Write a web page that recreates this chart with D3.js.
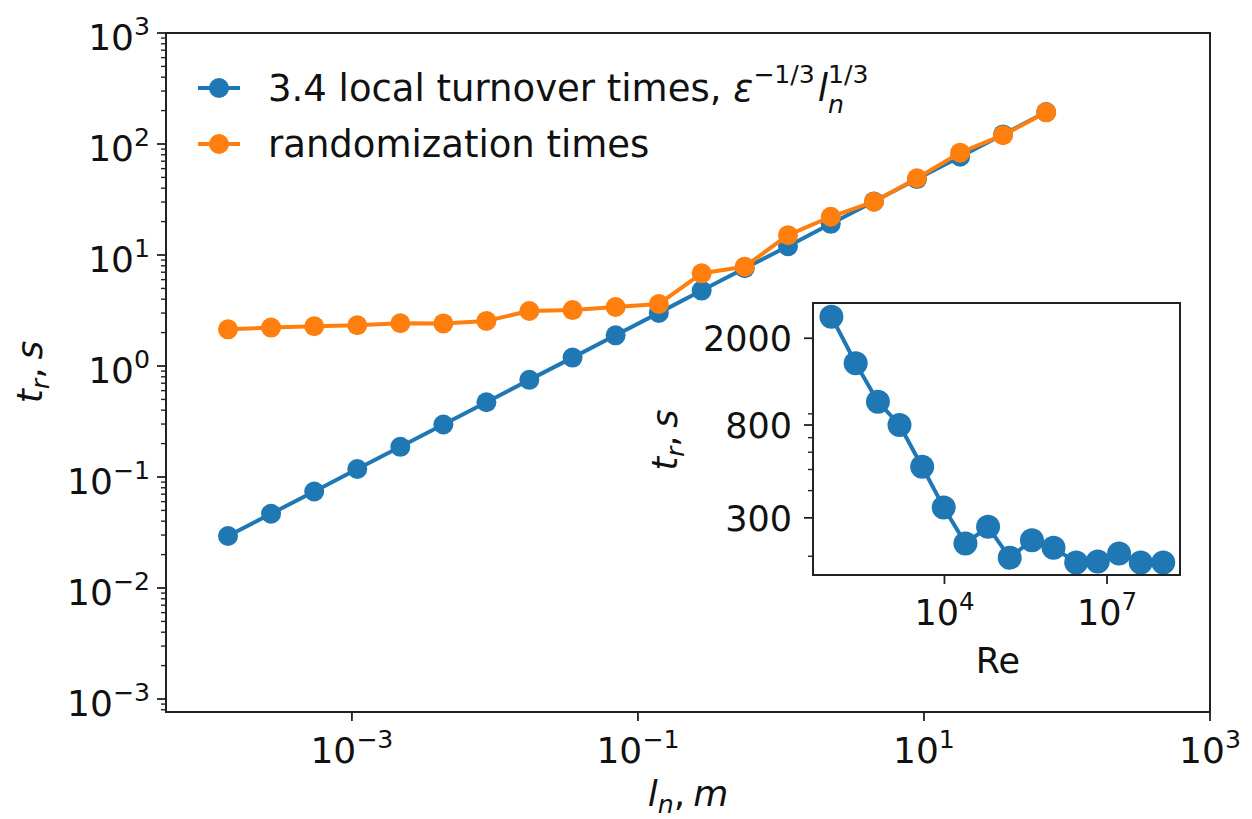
<!DOCTYPE html>
<html><head><meta charset="utf-8">
<script src="https://cdn.jsdelivr.net/npm/d3@7/dist/d3.min.js"></script>
<style>
body{margin:0;background:#fff}
svg{display:block}
text{font-family:"DejaVu Sans",sans-serif;fill:#111;white-space:pre}
</style>
</head><body>
<svg id="chart" width="1252" height="819"></svg>
<script>
// ---- data ----
const lengthScales = [0.000136, 0.000272, 0.000545, 0.00109, 0.00218, 0.00436, 0.00872, 0.0174, 0.0349, 0.0698,
                      0.140, 0.279, 0.558, 1.12, 2.23, 4.47, 8.93, 17.9, 35.7, 71.5];
const turnoverTimes = [0.0294, 0.0467, 0.0741, 0.118, 0.187, 0.297, 0.472, 0.750, 1.19, 1.89,
                       3.01, 4.78, 7.59, 12.0, 19.1, 30.4, 48.3, 76.7, 122, 194];
const randomizationTimes = [2.14, 2.22, 2.28, 2.33, 2.43, 2.42, 2.55, 3.13, 3.19, 3.40,
                            3.62, 6.84, 7.85, 15.1, 22.1, 30.2, 49.1, 83.5, 120, 193];
const reynolds = [82, 230, 592, 1480, 3880, 9700, 24400, 63800, 160000, 412000,
                  1030000, 2700000, 6760000, 16700000, 41900000, 109000000];
const insetTimes = [2512, 1535, 1023, 800, 515, 335, 229, 273, 197, 237, 219, 187, 189, 206, 187, 187];

const mainXTicks = [1e-3, 1e-1, 1e1, 1e3];
const mainXTickExp = ["−3", "−1", "1", "3"];
const mainYTicks = [1e-3, 1e-2, 1e-1, 1e0, 1e1, 1e2, 1e3];
const mainYTickExp = ["−3", "−2", "−1", "0", "1", "2", "3"];
const insetXTicks = [1e4, 1e7];
const insetXTickExp = ["4", "7"];
const insetYTicks = [300, 800, 2000];
const insetYTickLabels = ["300", "800", "2000"];
const insetYMinor = [200, 400, 500, 600, 700, 900];
const seriesNames = ["3.4 local turnover times, ", "randomization times"];
const colors = ["#1f77b4", "#ff7f0e"];

// ---- helpers ----
const svg = d3.select("#chart");
const FS = 36;      // main tick / axis labels
const FS_LEG = 37;  // legend
const FS_IN = 35;   // inset

// one <text> per label, pieces as positioned tspans (sub/superscripts)
function rich(parent, pieces, opts) {
  const size = opts.size || FS;
  const g = parent.append("g");
  const t = g.append("text");
  let cursor = 0, prevStart = 0;
  pieces.forEach(p => {
    const fs = size * (p.s || 1);
    const start = (p.stack ? prevStart : cursor) + (p.gap || 0) * size;
    const ts = t.append("tspan")
      .attr("x", start).attr("y", (p.dy || 0) * size)
      .attr("font-size", fs)
      .style("font-style", p.i ? "italic" : "normal")
      .text(p.t);
    const w = ts.node().getComputedTextLength();
    const end = start + w;
    cursor = p.stack ? Math.max(cursor, end) : end;
    prevStart = start;
  });
  const w = cursor;
  const shift = opts.anchor === "end" ? -w : opts.anchor === "middle" ? -w / 2 : 0;
  t.attr("transform", `translate(${shift},0)`);
  g.attr("transform", `translate(${opts.x},${opts.y})` + (opts.rotate ? ` rotate(${opts.rotate})` : ""));
  return g;
}
const pow10 = e => [{t: "10"}, {t: e, s: 0.7, dy: -0.42}];
const trLabel = [{t: "t", i: 1}, {t: "r", i: 1, s: 0.7, dy: 0.2}, {t: ","}, {t: "s", i: 1, gap: 0.22}];

// ---- main axes ----
const M = {l: 166, r: 1210, t: 33, b: 712};
const x = d3.scaleLog().domain([Math.pow(10, -4.3), 1e3]).range([M.l, M.r]);
const y = d3.scaleLog().domain([Math.pow(10, -3.117), 1e3]).range([M.b, M.t]);

const main = svg.append("g");
main.append("rect").attr("x", M.l).attr("y", M.t).attr("width", M.r - M.l).attr("height", M.b - M.t)
  .attr("fill", "#fff");

// minor y ticks
const yMinor = y.ticks().filter(v => Math.abs(Math.log10(v) - Math.round(Math.log10(v))) > 1e-6);
main.append("g").selectAll("line").data(yMinor).join("line")
  .attr("x1", M.l - 5).attr("x2", M.l).attr("y1", d => y(d)).attr("y2", d => y(d))
  .attr("stroke", "#222").attr("stroke-width", 1.4);
// major y ticks
main.append("g").selectAll("line").data(mainYTicks).join("line")
  .attr("x1", M.l - 9).attr("x2", M.l).attr("y1", d => y(d)).attr("y2", d => y(d))
  .attr("stroke", "#222").attr("stroke-width", 1.8);
mainYTicks.forEach((v, i) => rich(main, pow10(mainYTickExp[i]), {x: 150, y: y(v) + 17, anchor: "end"}));
// x ticks
main.append("g").selectAll("line").data(mainXTicks).join("line")
  .attr("x1", d => x(d)).attr("x2", d => x(d)).attr("y1", M.b).attr("y2", M.b + 9)
  .attr("stroke", "#222").attr("stroke-width", 1.8);
mainXTicks.forEach((v, i) => rich(main, pow10(mainXTickExp[i]), {x: x(v), y: 763, anchor: "middle"}));

// series
const line = d3.line().x(d => x(d[0])).y(d => y(d[1]));
[turnoverTimes, randomizationTimes].forEach((ys, k) => {
  const pts = lengthScales.map((lx, i) => [lx, ys[i]]);
  const g = main.append("g");
  g.append("path").datum(pts).attr("d", line).attr("fill", "none")
    .attr("stroke", colors[k]).attr("stroke-width", 4).attr("stroke-linejoin", "round");
  g.selectAll("circle").data(pts).join("circle")
    .attr("cx", d => x(d[0])).attr("cy", d => y(d[1])).attr("r", 10).attr("fill", colors[k]);
});

// frame
main.append("rect").attr("x", M.l).attr("y", M.t).attr("width", M.r - M.l).attr("height", M.b - M.t)
  .attr("fill", "none").attr("stroke", "#222").attr("stroke-width", 2);

// axis labels
rich(main, trLabel, {x: 42, y: 372, anchor: "middle", rotate: -90});
rich(main, [{t: "l", i: 1}, {t: "n", i: 1, s: 0.7, dy: 0.2}, {t: ","}, {t: "m", i: 1, gap: 0.22}],
  {x: 688, y: 806, anchor: "middle"});

// legend
const legY = [88, 144];
seriesNames.forEach((name, k) => {
  const g = main.append("g");
  g.append("line").attr("x1", 198).attr("x2", 240).attr("y1", legY[k]).attr("y2", legY[k])
    .attr("stroke", colors[k]).attr("stroke-width", 4);
  g.append("circle").attr("cx", 219).attr("cy", legY[k]).attr("r", 10).attr("fill", colors[k]);
  const pieces = [{t: name}];
  if (k === 0) {
    pieces.push({t: "ε", i: 1}, {t: "−1/3", s: 0.68, dy: -0.5},
      {t: "l", i: 1, gap: 0.08}, {t: "n", i: 1, s: 0.68, dy: 0.33}, {t: "1/3", s: 0.68, dy: -0.5, stack: true});
  }
  rich(g, pieces, {x: 268, y: legY[k] + 13, anchor: "start", size: FS_LEG});
});

// ---- inset ----
const I = {l: 813, r: 1180, t: 303, b: 575};
const xi = d3.scaleLog().domain([Math.pow(10, 1.574), Math.pow(10, 8.347)]).range([I.l, I.r]);
const yi = d3.scaleLog().domain([Math.pow(10, 2.215), Math.pow(10, 3.4627)]).range([I.b, I.t]);
const ins = svg.append("g");
ins.append("rect").attr("x", I.l).attr("y", I.t).attr("width", I.r - I.l).attr("height", I.b - I.t)
  .attr("fill", "#fff");
ins.append("g").selectAll("line").data(insetYMinor).join("line")
  .attr("x1", I.l - 5).attr("x2", I.l).attr("y1", d => yi(d)).attr("y2", d => yi(d))
  .attr("stroke", "#222").attr("stroke-width", 1.4);
ins.append("g").selectAll("line").data(insetYTicks).join("line")
  .attr("x1", I.l - 9).attr("x2", I.l).attr("y1", d => yi(d)).attr("y2", d => yi(d))
  .attr("stroke", "#222").attr("stroke-width", 1.8);
insetYTicks.forEach((v, i) => rich(ins, [{t: insetYTickLabels[i]}], {x: 792, y: yi(v) + 12.8, anchor: "end", size: FS_IN}));
ins.append("g").selectAll("line").data(insetXTicks).join("line")
  .attr("x1", d => xi(d)).attr("x2", d => xi(d)).attr("y1", I.b).attr("y2", I.b + 9)
  .attr("stroke", "#222").attr("stroke-width", 1.8);
insetXTicks.forEach((v, i) => rich(ins, pow10(insetXTickExp[i]), {x: xi(v), y: 625, anchor: "middle", size: FS_IN}));

const ipts = reynolds.map((r, i) => [r, insetTimes[i]]);
ins.append("path").datum(ipts)
  .attr("d", d3.line().x(d => xi(d[0])).y(d => yi(d[1])))
  .attr("fill", "none").attr("stroke", colors[0]).attr("stroke-width", 4).attr("stroke-linejoin", "round");
ins.selectAll("circle").data(ipts).join("circle")
  .attr("cx", d => xi(d[0])).attr("cy", d => yi(d[1])).attr("r", 12).attr("fill", colors[0]);
ins.append("rect").attr("x", I.l).attr("y", I.t).attr("width", I.r - I.l).attr("height", I.b - I.t)
  .attr("fill", "none").attr("stroke", "#222").attr("stroke-width", 2);
rich(ins, trLabel, {x: 677, y: 440, anchor: "middle", rotate: -90, size: FS_IN});
rich(ins, [{t: "Re"}], {x: 998, y: 673, anchor: "middle", size: FS_IN});
</script>
</body></html>
